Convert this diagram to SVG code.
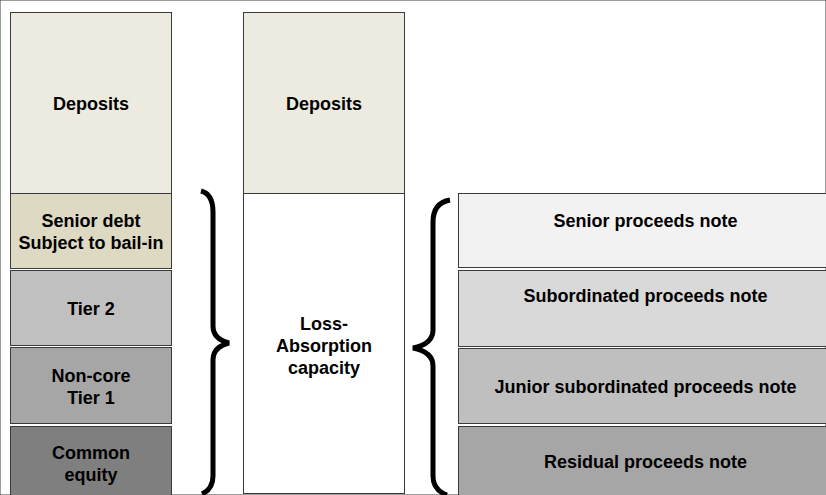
<svg xmlns="http://www.w3.org/2000/svg" width="826" height="495" viewBox="0 0 826 495">
<style>
rect{stroke:#3a3a3a;stroke-width:1}
text{font-family:"Liberation Sans",Arial,sans-serif;font-weight:bold;font-size:18px;fill:#000;text-anchor:middle}
.brace{fill:none;stroke:#000;stroke-width:5}
</style>
<rect x="0" y="0" width="826" height="495" fill="#fff" stroke="none"/>
<g id="left-deposits"><rect x="10.5" y="12.5" width="161" height="181" fill="#EDEBE0"/><text x="91" y="110">Deposits</text></g>
<g id="senior-debt"><rect x="10.5" y="193.5" width="161" height="75" fill="#DDD9C3"/><text x="91" y="227">Senior debt</text><text x="91" y="249">Subject to bail-in</text></g>
<g id="tier2"><rect x="10.5" y="270.5" width="161" height="75" fill="#C0C0C0"/><text x="91" y="315">Tier 2</text></g>
<g id="noncore"><rect x="10.5" y="347.5" width="161" height="76" fill="#A6A6A6"/><text x="91" y="382">Non-core</text><text x="91" y="404">Tier 1</text></g>
<g id="common-equity"><rect x="10.5" y="426.5" width="161" height="75" fill="#7F7F7F"/><text x="91" y="459">Common</text><text x="91" y="481">equity</text></g>
<g id="mid-deposits"><rect x="243.5" y="12.5" width="161" height="181" fill="#EDEBE0"/><text x="324" y="110">Deposits</text></g>
<g id="loss-absorption"><rect x="243.5" y="193.5" width="161" height="300" fill="#FFFFFF"/><text x="324" y="330">Loss-</text><text x="324" y="352">Absorption</text><text x="324" y="374">capacity</text></g>
<g id="senior-note"><rect x="458.5" y="193.5" width="375" height="74" fill="#F2F2F2"/><text x="645.5" y="227">Senior proceeds note</text></g>
<g id="sub-note"><rect x="458.5" y="270.5" width="375" height="76" fill="#D9D9D9"/><text x="645.5" y="302">Subordinated proceeds note</text></g>
<g id="junior-note"><rect x="458.5" y="348.5" width="375" height="75" fill="#BFBFBF"/><text x="645.5" y="393">Junior subordinated proceeds note</text></g>
<g id="residual-note"><rect x="458.5" y="426.5" width="375" height="75" fill="#A6A6A6"/><text x="645.5" y="468">Residual proceeds note</text></g>
<g id="connectors">
<path class="brace" d="M201,191 Q213,194 213,212 L213,326 Q213,339 229,343 Q213,347 213,360 L213,476 Q213,489 202,494"/>
<path class="brace" d="M450,200 Q433,203 433,222 L433,330 Q433,344 413,348 Q433,352 433,366 L433,476 Q433,490 447,495"/>
</g>
</svg>
